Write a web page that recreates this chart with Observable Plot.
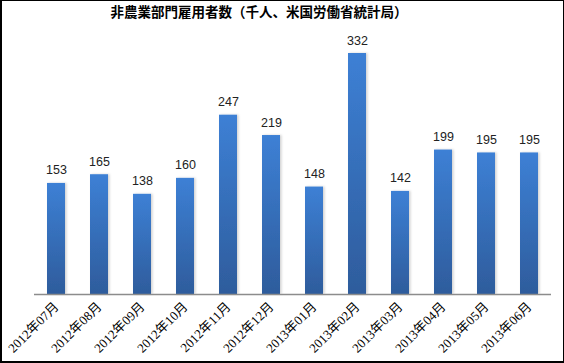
<!DOCTYPE html>
<html>
<head>
<meta charset="utf-8">
<script src="https://cdn.jsdelivr.net/npm/d3@7"></script>
<script src="https://cdn.jsdelivr.net/npm/@observablehq/plot@0.6"></script>
<style>
  html, body { margin: 0; padding: 0; background: #fff; }
  #box {
    position: relative; width: 564px; height: 363px; box-sizing: border-box;
    border: 1px solid #000; border-left-width: 2px; border-bottom-width: 2px; overflow: hidden;
  }
  #title {
    position: absolute; left: 0; top: 0; width: 514px; height: 28px; line-height: 28px;
    text-align: center; font: bold 13.5px "Noto Sans CJK JP", sans-serif; color: #000;
  }
  #chart { position: absolute; left: -1px; top: 28px; }
</style>
</head>
<body>
<div id="box">
  <div id="title">非農業部門雇用者数（千人、米国労働省統計局）</div>
  <div id="chart"></div>
</div>
<script>
const months = ["2012年07月","2012年08月","2012年09月","2012年10月","2012年11月","2012年12月",
                "2013年01月","2013年02月","2013年03月","2013年04月","2013年05月","2013年06月"];
const values = [153, 165, 138, 160, 247, 219, 148, 332, 142, 199, 195, 195];

const data = months.map((m, i) => ({month: m, value: values[i]}));

const plot = Plot.plot({
  width: 562,
  height: 333,
  marginLeft: 33,
  marginRight: 12,
  marginTop: 24,
  marginBottom: 68,
  style: {background: "transparent", overflow: "visible"},
  x: {domain: months, paddingInner: 0.59, paddingOuter: 0.295, label: null},
  y: {domain: [0, 332], axis: null},
  marks: [
    Plot.barY(data, {x: "month", y: "value", fill: "url(#barGrad)", className: "bars"}),
    Plot.ruleY([0], {stroke: "#8c8c8c", strokeWidth: 1.3}),
    Plot.text(data, {x: "month", y: "value", text: d => String(d.value), dy: -13,
      fontSize: 12.5, fontFamily: "Liberation Sans, Arial, sans-serif", fill: "#222"}),
    Plot.axisX({tickRotate: -45, tickSize: 0, tickPadding: 10, fontSize: 13,
      fontFamily: "Liberation Serif, Noto Sans CJK JP, serif", fill: "#000"})
  ]
});

const svg = d3.select(plot);
const defs = svg.insert("defs", ":first-child");
const g = defs.append("linearGradient").attr("id", "barGrad")
  .attr("x1", 0).attr("y1", 0).attr("x2", 0).attr("y2", 1);
g.append("stop").attr("offset", "0%").attr("stop-color", "#3d80d5");
g.append("stop").attr("offset", "100%").attr("stop-color", "#2e5c9c");
const f = defs.append("filter").attr("id", "shadow").attr("x", "-30%").attr("y", "-5%")
  .attr("width", "160%").attr("height", "110%");
f.append("feDropShadow").attr("dx", 1.5).attr("dy", 0).attr("stdDeviation", 1)
  .attr("flood-color", "#000").attr("flood-opacity", 0.18);
svg.selectAll("g.bars rect").attr("filter", "url(#shadow)");

document.getElementById("chart").appendChild(plot);
</script>
</body>
</html>
